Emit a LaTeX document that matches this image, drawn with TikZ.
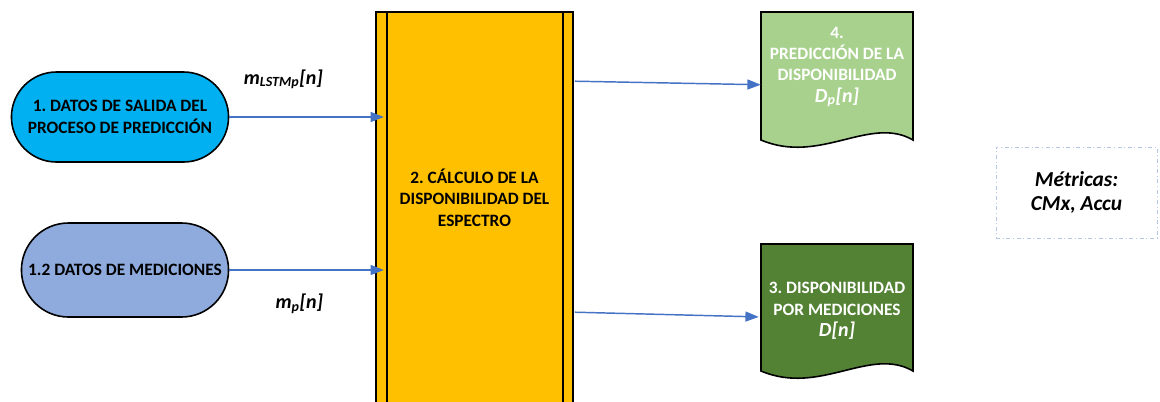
\documentclass[tikz,border=0pt]{standalone}
\usepackage{fontspec}
\setmainfont{Carlito}
\usetikzlibrary{arrows.meta,shapes.misc,calc}
\frenchspacing
\definecolor{cyanfill}{HTML}{00B0F0}
\definecolor{bluefill}{HTML}{8FAADC}
\definecolor{yellowfill}{HTML}{FFC000}
\definecolor{lightgreen}{HTML}{A9D18E}
\definecolor{darkgreen}{HTML}{548235}
\definecolor{arrowblue}{HTML}{4472C4}
\definecolor{dashblue}{HTML}{B4C7E7}
\tikzset{
  txt/.style={font=\fontsize{13pt}{16pt}\selectfont\bfseries, align=center},
  term/.style={rounded rectangle, draw=black, line width=1.2pt, txt},
  arr/.style={draw=arrowblue, line width=1.1pt, -{Triangle[length=10pt,width=7.5pt]}},
  lbl/.style={font=\fontsize{15pt}{18pt}\selectfont\bfseries\itshape},
  docline/.style={draw=black, line width=1.2pt},
}
\begin{document}
\begin{tikzpicture}[x=0.75pt,y=-0.75pt]
\useasboundingbox (0,0) rectangle (1160,401);

% terminals
\node[term, fill=cyanfill, minimum width=169.5pt, minimum height=67.5pt] (n1) at (120,117)
  {1. DATOS DE SALIDA DEL\\PROCESO DE PREDICCIÓN};
\node[term, fill=bluefill, minimum width=162pt, minimum height=70.5pt] (n12) at (125,270)
  {1.2 DATOS DE MEDICIONES};

% yellow process
\node[draw=black, line width=1.2pt, fill=yellowfill, minimum width=147.75pt, minimum height=298.5pt, txt, text depth=0pt] (calc) at (474.5,211)
  {2. CÁLCULO DE LA\\DISPONIBILIDAD DEL\\ESPECTRO\\[4pt]};
\draw[line width=1.2pt] ($(calc.north west)+(12,0)$) -- ($(calc.south west)+(12,0)$);
\draw[line width=1.2pt] ($(calc.north east)+(-11,0)$) -- ($(calc.south east)+(-11,0)$);

% document 4
\fill[lightgreen] (761,12) -- (913,12) -- (913,140) .. controls (870,115) and (820,165) .. (761,140) -- cycle;
\draw[docline] (761,12) -- (913,12) -- (913,140) .. controls (870,115) and (820,165) .. (761,140) -- cycle;
\node[minimum width=114pt, minimum height=96pt, inner sep=0pt] (d4) at (837,76) {};
\node[txt, text=white] (t4) at (837,67)
  {4.\\PREDICCIÓN DE LA\\DISPONIBILIDAD\\{\fontsize{15pt}{18pt}\selectfont\itshape D\textsubscript{p}[n]}};

% document 3
\fill[darkgreen] (761,244) -- (913,244) -- (913,371) .. controls (870,346) and (820,396) .. (761,371) -- cycle;
\draw[docline] (761,244) -- (913,244) -- (913,371) .. controls (870,346) and (820,396) .. (761,371) -- cycle;
\node[minimum width=114pt, minimum height=95pt, inner sep=0pt] (d3) at (837,307.5) {};
\node[txt, text=white] (t3) at (837,311)
  {3. DISPONIBILIDAD\\POR MEDICIONES\\{\fontsize{15pt}{18pt}\selectfont\itshape D[n]}};

% metrics box
\node[draw=dashblue, line width=0.7pt, dash dot, minimum width=120.75pt, minimum height=68.25pt,
  font=\fontsize{16pt}{18pt}\selectfont\bfseries\itshape, align=center] (met) at (1076.5,192.5)
  {Métricas:\\CMx, Accu};

% connectors
\draw[arr, shorten >=-6.5pt] (n1.east) -- (n1.east -| calc.west)
  node[lbl, pos=0.37, above=17pt] (l1) {m\textsubscript{LSTMp}[n]};
\draw[arr, shorten >=-6.5pt] (n12.east) -- (n12.east -| calc.west)
  node[lbl, pos=0.48, below=14pt] (l2) {m\textsubscript{p}[n]};
\draw[arr] ($(calc.north east)+(1,70)$) -- ($(d4.north west)+(0,73)$);
\draw[arr] ($(calc.north east)+(1,301)$) -- ($(d3.north west)+(-2,73)$);
\end{tikzpicture}
\end{document}
